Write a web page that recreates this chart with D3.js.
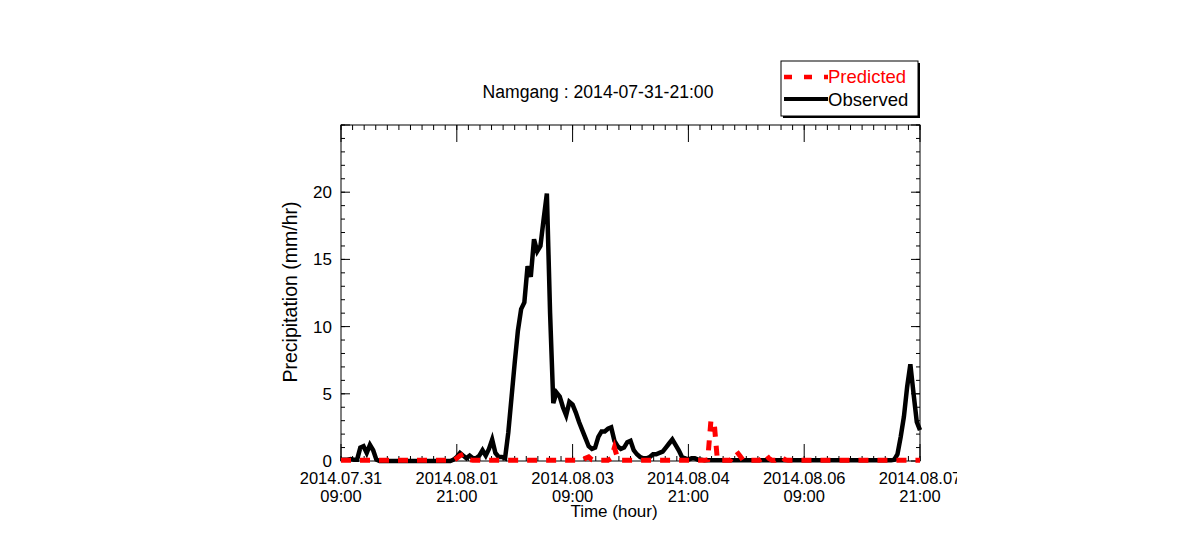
<!DOCTYPE html>
<html>
<head>
<meta charset="utf-8">
<script src="https://cdn.jsdelivr.net/npm/d3@7"></script>
<style>
  body { margin: 0; background: #fff; }
  svg { display: block; font-family: "Liberation Sans", Arial, sans-serif; }
</style>
</head>
<body>
<svg id="chart" width="1190" height="552"></svg>
<script>
// hourly values, 2014-07-31 09:00 (hour 0) to 2014-08-07 21:00 (hour 180)
const observed = [
  0.1, 0.1, 0.1, 0.15, 0.1, 0.1, 1.0, 1.1, 0.6, 1.2, 0.8, 0.1,
  0, 0, 0, 0, 0, 0, 0, 0, 0, 0, 0, 0, 0, 0, 0, 0, 0, 0, 0, 0, 0, 0, 0,
  0.1, 0.3, 0.6, 0.4, 0.2, 0.4, 0.2, 0.2, 0.4, 0.8, 0.4, 0.9, 1.6, 0.6, 0.3, 0.3, 0.2,
  2.1, 4.7, 7.3, 9.7, 11.3, 11.8, 14.5, 13.7, 16.5, 15.6, 16.0, 18.0, 19.9, 11.0, 4.3,
  5.1, 4.8, 4.0, 3.4, 4.4, 4.2, 3.6, 2.9, 2.3, 1.7, 1.1, 0.9, 1.0, 1.8, 2.2, 2.2, 2.4, 2.5,
  1.5, 1.1, 0.9, 1.0, 1.4, 1.5, 0.8, 0.5, 0.3, 0.2, 0.2, 0.3, 0.5, 0.5, 0.6, 0.7, 1.0, 1.3,
  1.6, 1.2, 0.8, 0.3, 0.2, 0.1,
  0.2, 0.2, 0.1, 0.1,
  0.05, 0.05, 0.05, 0.05, 0.05, 0.05, 0.05, 0.05, 0.05, 0.05,
  0.05, 0.05, 0.05, 0.05, 0.05, 0.05, 0.05, 0.05, 0.05, 0.05,
  0.05, 0.05, 0.05, 0.05, 0.05, 0.05, 0.05, 0.05, 0.05, 0.05,
  0.05, 0.05, 0.05, 0.05, 0.05, 0.05, 0.05, 0.05, 0.05, 0.05,
  0.05, 0.05, 0.05, 0.05, 0.05, 0.05, 0.05, 0.05, 0.05, 0.05,
  0.05, 0.05, 0.05, 0.05, 0.05, 0.05, 0.05, 0.05, 0.05,
  0.1, 0.5, 1.8, 3.3, 5.5, 7.2, 5.0, 2.9, 2.3
];

const predicted = [
  0.05, 0.05, 0.05, 0.05, 0.05, 0.05, 0.05, 0.05, 0.05, 0.05,
  0.05, 0.05, 0.05, 0.05, 0.05, 0.05, 0.05, 0.05, 0.05, 0.05,
  0.05, 0.05, 0.05, 0.05, 0.05, 0.05, 0.05, 0.05, 0.05, 0.05,
  0.05, 0.05, 0.05, 0.05, 0.05, 0.05, 0.2, 0.4, 0.5, 0.3,
  0.1, 0.05, 0.05, 0.05, 0.05, 0.05, 0.05, 0.05, 0.05, 0.05,
  0.05, 0.05, 0.05, 0.05, 0.05, 0.05, 0.05, 0.05, 0.05, 0.05,
  0.05, 0.05, 0.05, 0.05, 0.05, 0.05, 0.05, 0.05, 0.05, 0.05,
  0.05, 0.05, 0.05, 0.05, 0.05, 0.05, 0.2, 0.3, 0.1, 0.05,
  0.05, 0.05, 0.05, 0.05, 0.2, 1.0, 0.2, 0.05, 0.05, 0.05,
  0.05, 0.05, 0.05, 0.05, 0.05, 0.05, 0.05, 0.05, 0.05, 0.05,
  0.05, 0.05, 0.05, 0.05, 0.05, 0.05, 0.05, 0.05, 0.05, 0.05,
  0.05, 0.05, 0.05, 0.05, 0.1, 3.0, 2.9, 0.1, 0.05, 0.05,
  0.05, 0.05, 0.4, 0.7, 0.4, 0.05, 0.05, 0.05, 0.05, 0.05,
  0.05, 0.2, 0.5, 0.2, 0.05, 0.05, 0.2, 0.3, 0.1, 0.05,
  0.05, 0.05, 0.05, 0.05, 0.05, 0.05, 0.05, 0.05, 0.05, 0.05,
  0.05, 0.05, 0.05, 0.05, 0.05, 0.05, 0.05, 0.05, 0.05, 0.05,
  0.05, 0.05, 0.05, 0.05, 0.05, 0.05, 0.05, 0.05, 0.05, 0.05,
  0.05, 0.05, 0.05, 0.05, 0.05, 0.05, 0.05, 0.05, 0.05, 0.05,
  0.05
];

const tickHours = [0, 36, 72, 108, 144, 180];
const tickDates = ["2014.07.31", "2014.08.01", "2014.08.03", "2014.08.04", "2014.08.06", "2014.08.07"];
const tickTimes = ["09:00", "21:00", "09:00", "21:00", "09:00", "21:00"];
const yTicks = [0, 5, 10, 15, 20];

const title = "Namgang : 2014-07-31-21:00";
const seriesNames = ["Predicted", "Observed"];

const svg = d3.select('#chart');
const plot = { left: 341, right: 920, top: 125, bottom: 461 };

const x = d3.scaleLinear().domain([0, 180]).range([plot.left, plot.right]);
const y = d3.scaleLinear().domain([0, 25]).range([plot.bottom, plot.top]);

const minorX = d3.range(0, 180.001, 3.6);
const minorY = d3.range(0, 25.001, 1);

// frame
svg.append('rect')
    .attr('x', plot.left).attr('y', plot.top)
    .attr('width', plot.right - plot.left).attr('height', plot.bottom - plot.top)
    .attr('fill', 'none').attr('stroke', '#000').attr('stroke-width', 1);

// inward ticks on all four sides
const ticks = svg.append('g').attr('stroke', '#000').attr('stroke-width', 1);
function tickLines(values, scale, len, side) {
    const horiz = side === 'b' || side === 't';
    ticks.selectAll(null)
        .data(values)
        .enter()
        .append('line')
        .attr('x1', d => horiz ? scale(d) : (side === 'l' ? plot.left : plot.right))
        .attr('x2', d => horiz ? scale(d) : (side === 'l' ? plot.left + len : plot.right - len))
        .attr('y1', d => !horiz ? scale(d) : (side === 'b' ? plot.bottom : plot.top))
        .attr('y2', d => !horiz ? scale(d) : (side === 'b' ? plot.bottom - len : plot.top + len));
}
tickLines(tickHours, x, 17, 'b');
tickLines(tickHours, x, 17, 't');
tickLines(minorX, x, 5, 'b');
tickLines(minorX, x, 5, 't');
tickLines(yTicks.concat([25]), y, 9, 'l');
tickLines(yTicks.concat([25]), y, 9, 'r');
tickLines(minorY, y, 4, 'l');
tickLines(minorY, y, 4, 'r');

// y tick labels
svg.append('g').selectAll('text')
    .data(yTicks)
    .enter()
    .append('text')
    .attr('x', plot.left - 9)
    .attr('y', d => y(d))
    .attr('dy', '0.35em')
    .attr('text-anchor', 'end')
    .attr('font-size', '17px')
    .text(d => d);

// x tick labels (two lines), clipped like the source image
svg.append('clipPath').attr('id', 'clipx')
    .append('rect').attr('x', 0).attr('y', 0).attr('width', 957).attr('height', 552);
const xl = svg.append('g').attr('clip-path', 'url(#clipx)')
    .selectAll('g')
    .data(tickHours)
    .enter()
    .append('g')
    .attr('transform', d => `translate(${x(d)},0)`);
xl.append('text')
    .attr('y', 484).attr('text-anchor', 'middle').attr('font-size', '16.5px')
    .text((d, i) => tickDates[i]);
xl.append('text')
    .attr('y', 502).attr('text-anchor', 'middle').attr('font-size', '16.5px')
    .text((d, i) => tickTimes[i]);

// axis titles
svg.append('text')
    .attr('x', 614).attr('y', 517)
    .attr('text-anchor', 'middle').attr('font-size', '17px')
    .text('Time (hour)');
svg.append('text')
    .attr('transform', `translate(297, ${(plot.top + plot.bottom) / 2 - 1}) rotate(-90)`)
    .attr('text-anchor', 'middle').attr('font-size', '19.5px')
    .text('Precipitation (mm/hr)');

svg.append('text')
    .attr('x', 598).attr('y', 98)
    .attr('text-anchor', 'middle').attr('font-size', '17.6px')
    .text(title);

// series
const line = d3.line().x((d, i) => x(i)).y(d => y(d));
svg.append('path')
    .datum(observed)
    .attr('d', line)
    .attr('fill', 'none')
    .attr('stroke', '#000')
    .attr('stroke-width', 4.5)
    .attr('stroke-linejoin', 'miter');
svg.append('path')
    .datum(predicted)
    .attr('d', line)
    .attr('fill', 'none')
    .attr('stroke', '#ff0000')
    .attr('stroke-width', 5)
    .attr('stroke-dasharray', '10,9');

// legend
const lg = svg.append('g');
lg.append('rect')
    .attr('x', 783).attr('y', 63).attr('width', 137).attr('height', 55)
    .attr('fill', '#000');
lg.append('rect')
    .attr('x', 781).attr('y', 61).attr('width', 137).attr('height', 55)
    .attr('fill', '#fff').attr('stroke', '#000').attr('stroke-width', 1);
lg.append('line')
    .attr('x1', 784).attr('x2', 828).attr('y1', 77).attr('y2', 77)
    .attr('stroke', '#ff0000').attr('stroke-width', 4.5).attr('stroke-dasharray', '8,12');
lg.append('line')
    .attr('x1', 784).attr('x2', 828).attr('y1', 99).attr('y2', 99)
    .attr('stroke', '#000').attr('stroke-width', 4);
lg.append('text')
    .attr('x', 828).attr('y', 83).attr('font-size', '18.5px').attr('fill', '#ff0000')
    .text(seriesNames[0]);
lg.append('text')
    .attr('x', 828).attr('y', 106).attr('font-size', '18.5px').attr('fill', '#000')
    .text(seriesNames[1]);
</script>
</body>
</html>
